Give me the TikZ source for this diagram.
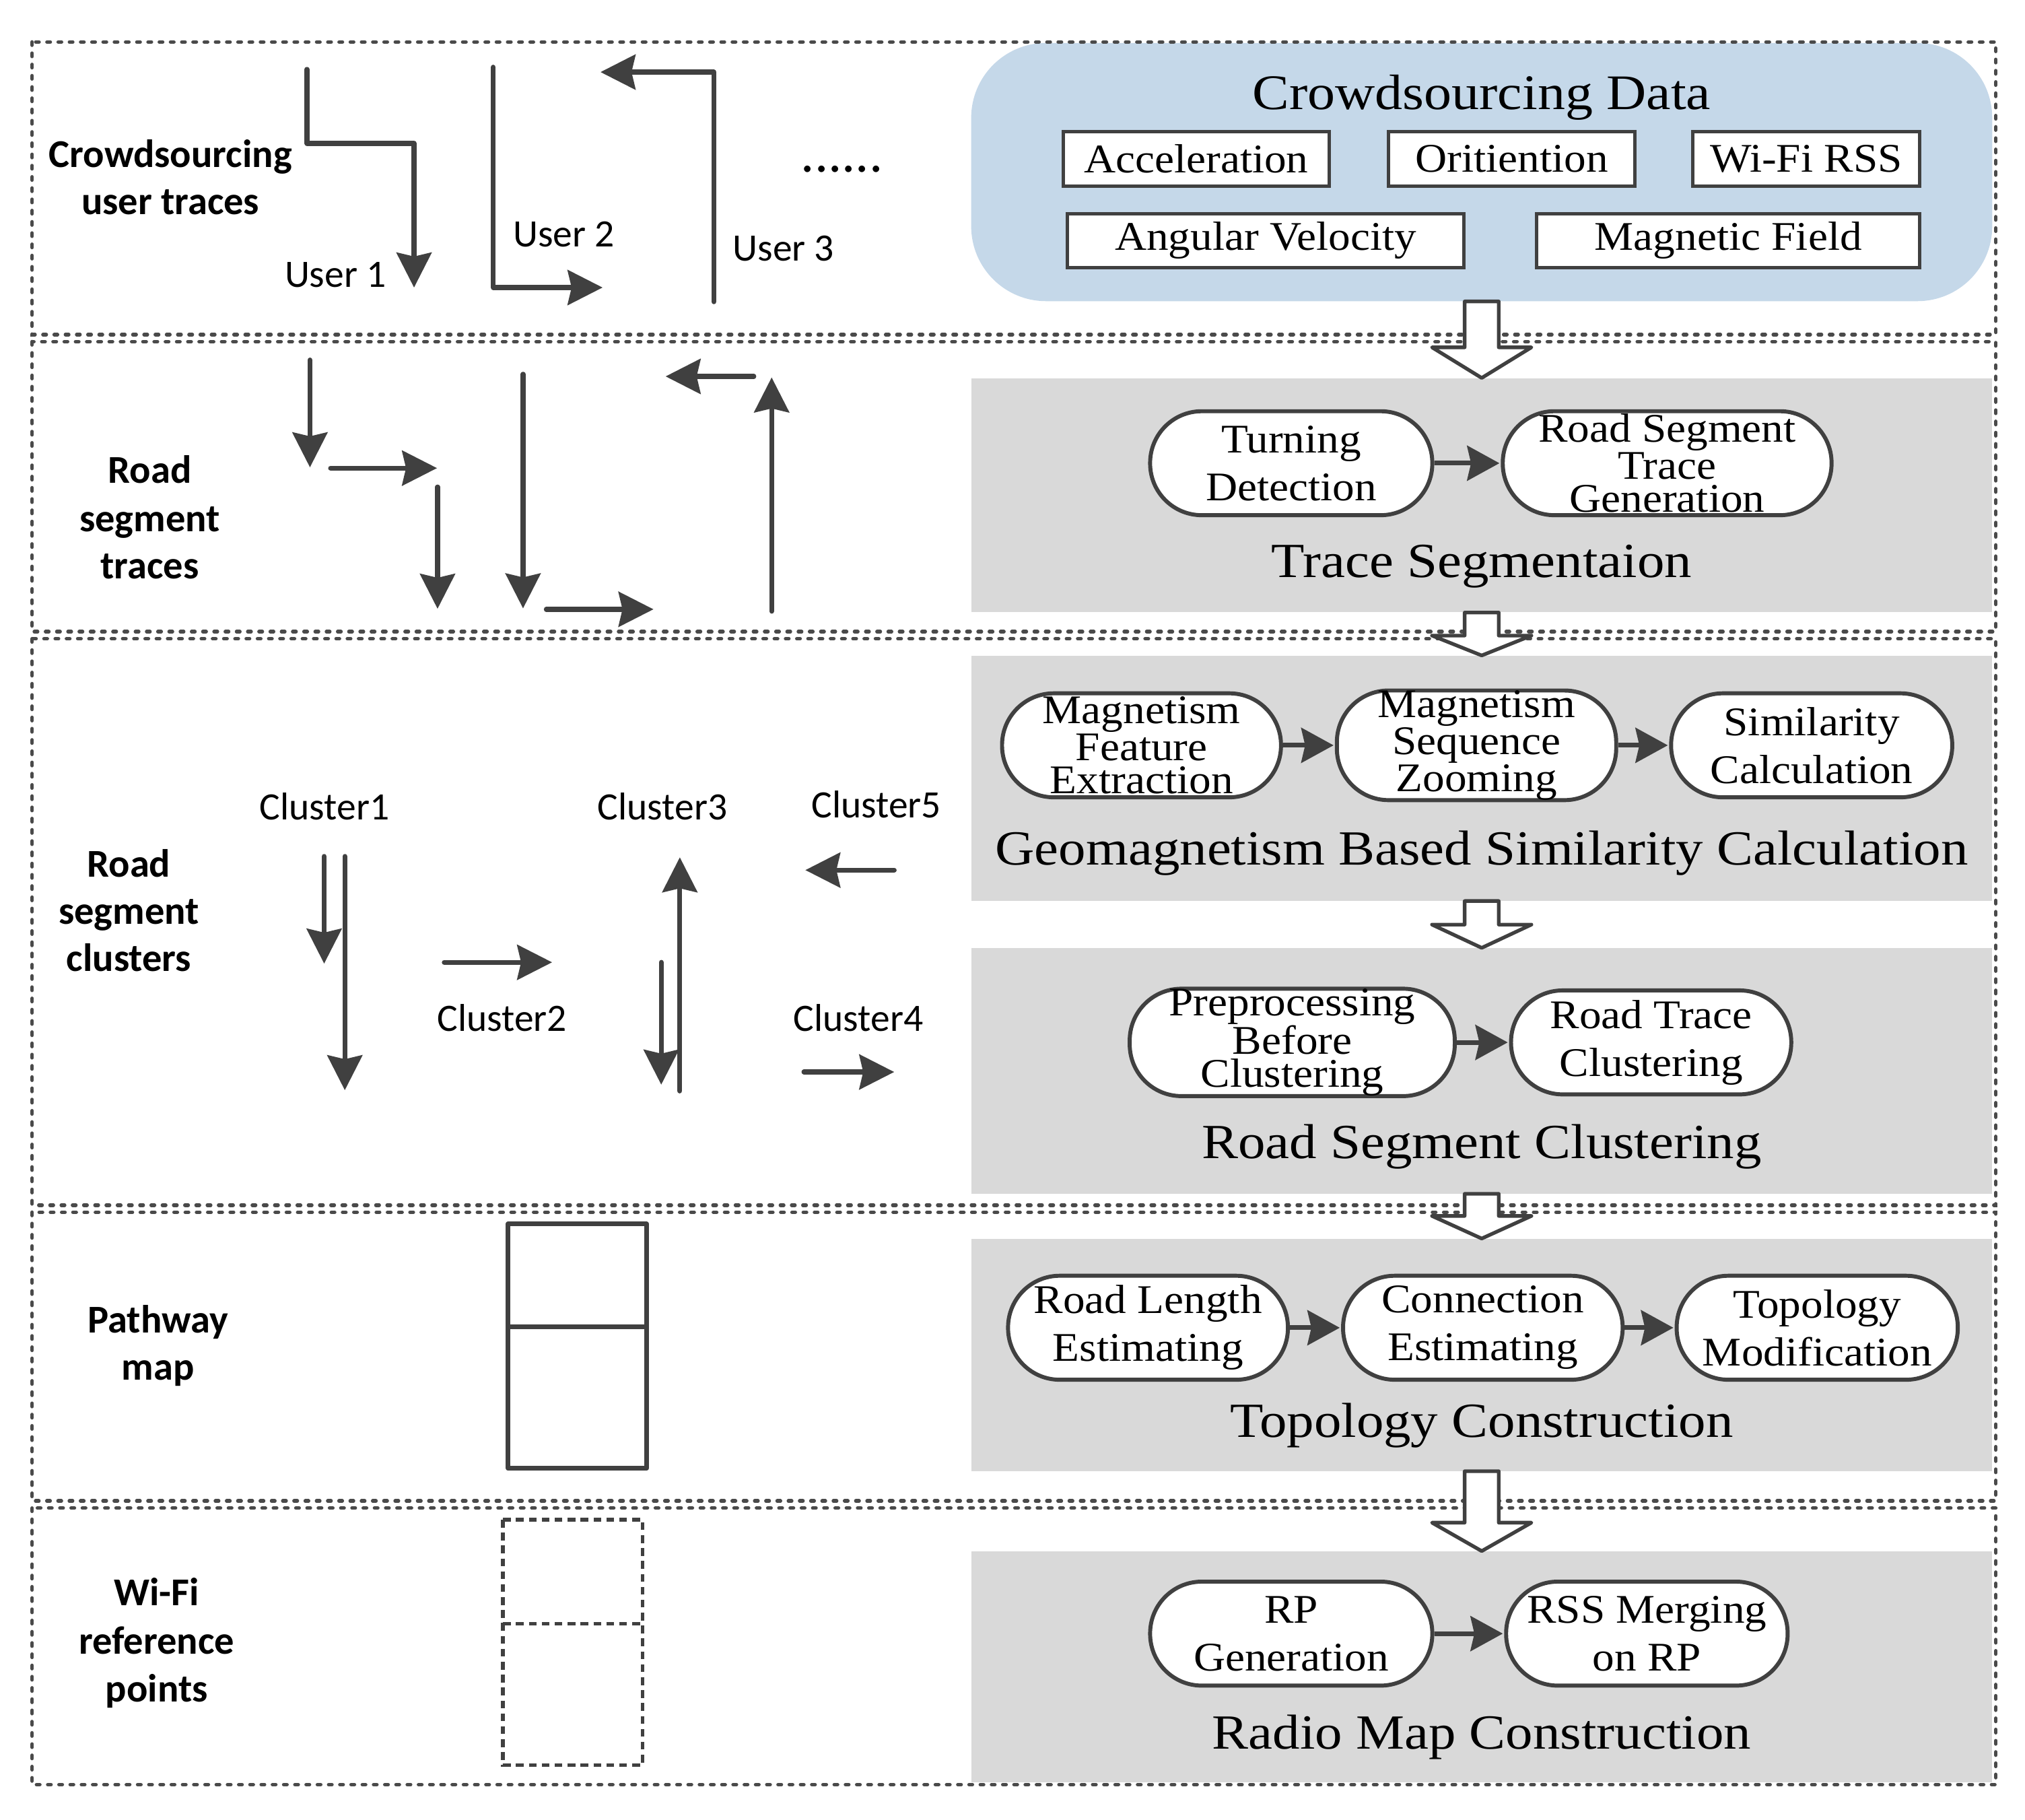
\documentclass[tikz,border=0pt]{standalone}
\usepackage{fontspec}
\newfontfamily\calf{Carlito}
\newfontfamily\palf{Liberation Serif}[FakeStretch=1.08]
\newfontfamily\paltf{Liberation Serif}[FakeStretch=1.11]
\usetikzlibrary{arrows.meta,calc}
\definecolor{dk}{HTML}{404040}
\definecolor{dashc}{HTML}{4A4A4A}
\definecolor{bluebg}{HTML}{C5D8E9}
\definecolor{graybg}{HTML}{D9D9D9}
\tikzset{
  sect/.style={draw=dashc, line width=2.8pt, dash pattern=on 2.5pt off 6.2pt, line cap=round},
  trace/.style={draw=dk, line width=3.8pt, line cap=round, line join=round,
    -{Stealth[length=27pt,width=27pt,inset=3pt]}},
  conn/.style={draw=dk, line width=3.6pt, shorten >=1pt,
    -{Stealth[length=25pt,width=27pt,inset=3pt]}},
  panel/.style={fill=graybg, draw=none, minimum width=790pt, inner sep=0pt},
  proc/.style={draw=dk, line width=3.1pt, fill=white, rounded corners=40pt,
    minimum height=80.5pt, inner sep=0pt, align=center,
    font=\palf\fontsize{31.5}{37}\selectfont},
  tight/.style={font=\palf\fontsize{31.5}{25.5}\selectfont},
  dbox/.style={draw=dk, line width=2.6pt, fill=white, inner sep=0pt,
    minimum height=42pt, font=\palf\fontsize{31.5}{37}\selectfont},
  title/.style={anchor=base, inner sep=0pt, font=\paltf\fontsize{38}{44}\selectfont},
  blab/.style={anchor=base, inner sep=0pt, font=\calf\bfseries\fontsize{30.5}{37}\selectfont},
  rlab/.style={anchor=base, inner sep=0pt, font=\calf\fontsize{30}{36}\selectfont},
  barrow/.style={draw=dk, fill=white, line width=2.8pt, line join=round},
  mapbox/.style={draw=dk, line width=3.6pt, line cap=round, line join=round},
  rpbox/.style={draw=dk, line width=3pt, dash pattern=on 6pt off 4pt},
}
\newcommand\blockarr[3]{%
  \path[barrow] let \p1=(#1.south), \p2=(#2.north) in
   (\x1-13.2pt,\y1) -- (\x1+13.2pt,\y1) -- (\x1+13.2pt,\y2+#3) -- (\x1+38.5pt,\y2+#3)
   -- (\x1,\y2) -- (\x1-38.5pt,\y2+#3) -- (\x1-13.2pt,\y2+#3) -- cycle;}
\begin{document}
\begin{tikzpicture}[x=1pt,y=-1pt]
\useasboundingbox[fill=white] (0,0) rectangle (1568,1408.5);

% ---------- right-hand panels ----------
\node[fill=bluebg, rounded corners=58pt, minimum width=790.6pt, minimum height=199.9pt, inner sep=0pt] (blue) at (1147.3,133.2) {};
\node[panel, minimum height=181.2pt] (p2) at (1147.3,383.4) {};
\node[panel, minimum height=189.7pt] (p3a) at (1147.3,602.5) {};
\node[panel, minimum height=190pt] (p3b) at (1147.3,829) {};
\node[panel, minimum height=179.7pt] (p4) at (1147.3,1048.9) {};
\node[panel, minimum height=179pt] (p5) at (1147.3,1290.5) {};

% ---------- dashed section frames ----------
\draw[sect] (24.9,32.5) rectangle (1545.4,259);
\draw[sect] (24.9,264.5) rectangle (1545.4,489);
\draw[sect] (24.9,494.5) rectangle (1545.4,933);
\draw[sect] (24.9,938.5) rectangle (1545.4,1162);
\draw[sect] (24.9,1167.5) rectangle (1545.4,1381.6);

% ---------- hollow block arrows ----------
\blockarr{blue}{p2}{23.7pt}
\blockarr{p2}{p3a}{15.4pt}
\blockarr{p3a}{p3b}{18pt}
\blockarr{p3b}{p4}{17.5pt}
\blockarr{p4}{p5}{22pt}

% ---------- Crowdsourcing data ----------
\node[title, font=\paltf\fontsize{38.5}{44}\selectfont] (cdt) at (1147.3,84.7) {Crowdsourcing Data};
\node[dbox, minimum width=206pt] (acc) at (926.2,123) {Acceleration};
\node[dbox, minimum width=191pt] (ori) at (1170.5,123) {Oritiention};
\node[dbox, minimum width=176pt] (wifi) at (1398.5,123) {Wi-Fi RSS};
\node[dbox, minimum width=307pt] (ang) at (980,186.3) {Angular Velocity};
\node[dbox, minimum width=296.5pt] (mag) at (1338.3,186.3) {Magnetic Field};

% ---------- Trace segmentation ----------
\node[proc, minimum width=218.5pt] (td) at (999.8,358.6) {Turning\\Detection};
\node[proc, tight, minimum width=254.6pt] (rstg) at (1290.9,358.6) {Road Segment\\Trace\\Generation};
\draw[conn] (td) -- (rstg);
\node[title] (tsg) at (1147.3,447) {Trace Segmentaion};

% ---------- Geomagnetism ----------
\node[proc, tight, minimum width=216pt] (mfe) at (883.9,577) {Magnetism\\Feature\\Extraction};
\node[proc, tight, minimum width=216.3pt] (msz) at (1143.3,577) {Magnetism\\Sequence\\Zooming};
\node[proc, minimum width=217.7pt] (sc) at (1402.8,577) {Similarity\\Calculation};
\draw[conn] (mfe) -- (msz);
\draw[conn] (msz) -- (sc);
\node[title] (gsc) at (1147.3,669.8) {Geomagnetism Based Similarity Calculation};

% ---------- Road segment clustering ----------
\node[proc, tight, minimum width=251.7pt] (pbc) at (1000.6,807) {Preprocessing\\Before\\Clustering};
\node[proc, minimum width=217pt] (rtc) at (1278.5,807) {Road Trace\\Clustering};
\draw[conn] (pbc) -- (rtc);
\node[title] (rsc) at (1147.3,896.6) {Road Segment Clustering};

% ---------- Topology construction ----------
\node[proc, minimum width=216.7pt] (rle) at (888.9,1027.9) {Road Length\\Estimating};
\node[proc, minimum width=216.5pt] (ce) at (1148.2,1027.9) {Connection\\Estimating};
\node[proc, minimum width=217.7pt] (tm) at (1407.1,1027.9) {Topology\\Modification};
\draw[conn] (rle) -- (ce);
\draw[conn] (ce) -- (tm);
\node[title] (tc) at (1147.3,1112.4) {Topology Construction};

% ---------- Radio map construction ----------
\node[proc, minimum width=218.5pt] (rpg) at (999.8,1264.7) {RP\\Generation};
\node[proc, minimum width=218pt] (rss) at (1275.2,1264.7) {RSS Merging\\on RP};
\draw[conn] (rpg) -- (rss);
\node[title] (rmc) at (1147.3,1353.9) {Radio Map Construction};

% ---------- left labels ----------
\node[blab] (l1a) at (132,129.6) {Crowdsourcing};
\node[blab] (l1b) at (132,165.9) {user traces};
\node[blab] (l2a) at (116,373.8) {Road};
\node[blab] (l2b) at (116,411.4) {segment};
\node[blab] (l2c) at (116,448) {traces};
\node[blab] (l3a) at (99.8,678.7) {Road};
\node[blab] (l3b) at (99.8,715.2) {segment};
\node[blab] (l3c) at (99.8,752) {clusters};
\node[blab] (l4a) at (122.3,1032) {Pathway};
\node[blab] (l4b) at (122.3,1068.5) {map};
\node[blab] (l5a) at (121.3,1243.2) {Wi-Fi};
\node[blab] (l5b) at (121.3,1280.5) {reference};
\node[blab] (l5c) at (121.3,1317.5) {points};

% ---------- user traces ----------
\draw[trace] (237.7,53.7) -- (237.7,111) -- (320.6,111) -- (320.6,222.6);
\draw[trace] (382,52) -- (382,222.6) -- (466.6,222.6);
\draw[trace] (552.7,233.6) -- (552.7,55.8) -- (465,55.8);
\node[rlab] (u1) at (259.7,222.5) {User 1};
\node[rlab] (u2) at (436.5,191) {User 2};
\node[rlab] (u3) at (606.7,202.2) {User 3};
\node[rlab, font=\calf\fontsize{42}{42}\selectfont] (dots) at (652,133.3) {......};

% ---------- road segment traces ----------
\draw[trace] (240,278.7) -- (240,361.8);
\draw[trace] (256,362.4) -- (338.4,362.4);
\draw[trace] (338.8,377) -- (338.8,471.3);
\draw[trace] (405,289.7) -- (405,471);
\draw[trace] (423,471.7) -- (506,471.7);
\draw[trace] (597.5,473.2) -- (597.5,292.2);
\draw[trace] (583.7,291.4) -- (515.4,291.4);

% ---------- road segment clusters ----------
\draw[trace] (251,663) -- (251,746);
\draw[trace] (267,663) -- (267,844);
\draw[trace] (344,745) -- (427.5,745);
\draw[trace] (526.4,844.6) -- (526.4,663.7);
\draw[trace] (512,745) -- (512,839.7);
\draw[trace] (692.4,673.6) -- (623.6,673.6);
\draw[trace] (622.5,829.9) -- (692.4,829.9);
\node[rlab] (c1) at (251.3,634.7) {Cluster1};
\node[rlab] (c3) at (513,634.7) {Cluster3};
\node[rlab] (c5) at (678.6,633.3) {Cluster5};
\node[rlab] (c2) at (388.7,798.4) {Cluster2};
\node[rlab] (c4) at (664.6,798.4) {Cluster4};

% ---------- pathway map ----------
\draw[mapbox] (393.5,947.5) rectangle (500.6,1136.8);
\draw[mapbox] (393.5,1027) -- (500.6,1027);

% ---------- Wi-Fi reference points ----------
\draw[rpbox] (389.5,1176.5) rectangle (497.5,1366.5);
\draw[rpbox] (389.5,1257) -- (497.5,1257);
\end{tikzpicture}
\end{document}
